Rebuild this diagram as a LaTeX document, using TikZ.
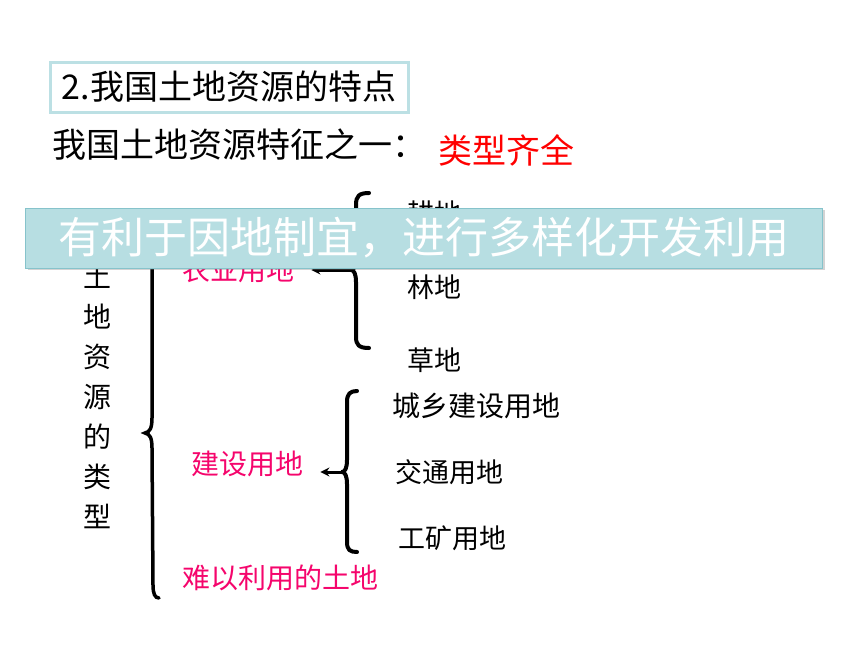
\documentclass[tikz,border=0pt]{standalone}
\usepackage{fontspec}
\usepackage{tikz}
\usetikzlibrary{arrows.meta,shadows}
\newfontfamily\cjk{Noto Sans CJK SC}
\definecolor{tealfill}{HTML}{B7DEE2}
\definecolor{tealline}{HTML}{86C3CB}
\definecolor{boxline}{HTML}{BCE0E4}
\definecolor{pinkred}{HTML}{F5056C}

\begin{document}
\begin{tikzpicture}[x=1pt,y=-1pt,
    every node/.style={font=\cjk, inner sep=0pt},
    item/.style={anchor=west, font=\cjk\fontsize{27}{27}\selectfont},
    kind/.style={item, text=pinkred, inner sep=2pt, font=\cjk\fontsize{28}{28}\selectfont},
    brace/.style={line width=4pt, line cap=round, line join=round},
    arr/.style={line width=3pt, -{Stealth[length=9pt,width=9pt]}, shorten >=15pt}]
    \useasboundingbox (0,0) rectangle (860,645);
    \node [draw=boxline, line width=3pt, minimum width=358pt, minimum height=50pt,
      font=\cjk\fontsize{34}{34}\selectfont] (title) at (229,87) {2.我国土地资源的特点};
    \node [anchor=west, font=\cjk\fontsize{34}{34}\selectfont] (feat) at (52,145) {我国土地资源特征之一：};
    \node [anchor=west, text=red, font=\cjk\fontsize{34}{34}\selectfont] (full) at (438,150) {类型齐全};
    \node [align=center, font=\cjk\fontsize{28}{40}\selectfont] (types) at (97,396)
      {土\\地\\资\\源\\的\\类\\型};
    \draw [line width=3.5pt, line cap=round]
      (159,250) .. controls (153,252) and (152,258) .. (152,272) -- (152,418)
      .. controls (152,428) and (150,432) .. (145,433)
      .. controls (150,434) and (152,438) .. (152,448) -- (153,585)
      .. controls (153,594) and (155,598) .. (159,598);
    % agricultural land
    \node [kind] (agri) at (180,270) {农业用地};
    \node [item] (farm) at (407,213) {耕地};
    \node [item] (forest) at (407,287) {林地};
    \node [item] (grass) at (407,360) {草地};
    \coordinate (agtip) at (351,270);
    \draw [brace] (369,193) .. controls (359,193) and (356,196) .. (356,205) -- (356,258)
      .. controls (356,266) and (354,270) .. (agtip)
      .. controls (354,270) and (356,274) .. (356,282) -- (356,337)
      .. controls (356,345) and (359,348) .. (369,348);
    \draw [arr] (agtip) -- (agtip -| agri.east);
    % construction land
    \node [kind] (build) at (189,464) {建设用地};
    \node [item, font=\cjk\fontsize{28}{28}\selectfont] (urban) at (392,406) {城乡建设用地};
    \node [item] (road) at (395,472) {交通用地};
    \node [item] (mine) at (398,538) {工矿用地};
    \coordinate (bdtip) at (342,472);
    \draw [brace] (357,391) .. controls (350,391) and (347,394) .. (347,402) -- (347,460)
      .. controls (347,468) and (345,472) .. (bdtip)
      .. controls (345,472) and (347,476) .. (347,484) -- (347,542)
      .. controls (347,550) and (350,552) .. (357,552);
    \draw [arr] (bdtip) -- (bdtip -| build.east);
    \node [kind] (waste) at (180,578) {难以利用的土地};
    % banner on top
    \node [fill=tealfill, draw=tealline, line width=1pt, minimum width=797pt, minimum height=60pt,
      text=white, font=\cjk\fontsize{43}{43}\selectfont,
      drop shadow={shadow xshift=2pt, shadow yshift=-2pt, opacity=0.35}] (note) at (424,238)
      {有利于因地制宜，进行多样化开发利用};
\end{tikzpicture}
\end{document}
